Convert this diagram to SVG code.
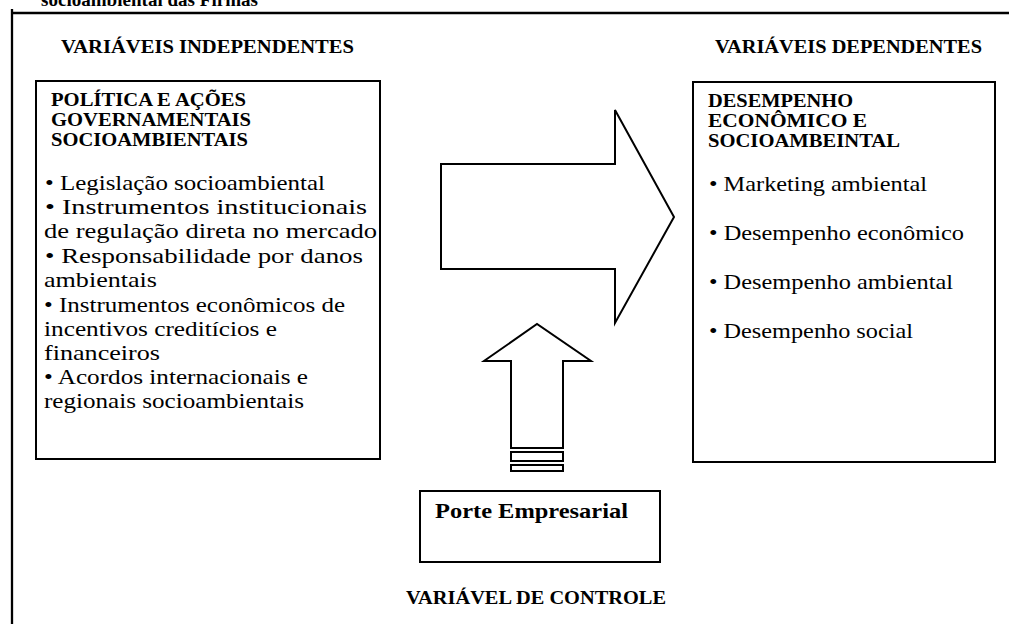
<svg xmlns="http://www.w3.org/2000/svg" width="1009" height="624" viewBox="0 0 1009 624">
<style>
.b{font-weight:bold}
.box{fill:#fff;stroke:#000;stroke-width:2}
.ln{fill:none;stroke:#000;stroke-width:2.3}
</style>
<rect width="1009" height="624" fill="#fff"/>
<g font-family="Liberation Serif, Times New Roman, Times, serif" fill="#000">
<text class="b" x="41" y="6" font-size="19" textLength="217" lengthAdjust="spacingAndGlyphs">socioambiental das Firmas</text>
<text class="b" x="61" y="53" font-size="18" textLength="293" lengthAdjust="spacingAndGlyphs">VARIÁVEIS INDEPENDENTES</text>
<text class="b" x="715" y="53" font-size="18" textLength="267" lengthAdjust="spacingAndGlyphs">VARIÁVEIS DEPENDENTES</text>
</g>
<g id="frame">
<line class="ln" x1="12" y1="13" x2="1009" y2="13"/>
<line class="ln" x1="12" y1="9" x2="12" y2="624"/>
</g>
<g id="independentes" font-family="Liberation Serif, Times New Roman, Times, serif" fill="#000">
<rect class="box" x="36" y="81" width="344" height="378"/>
<text class="b" x="51" y="106" font-size="18" textLength="195" lengthAdjust="spacingAndGlyphs">POLÍTICA E AÇÕES</text>
<text class="b" x="51" y="126" font-size="18" textLength="200" lengthAdjust="spacingAndGlyphs">GOVERNAMENTAIS</text>
<text class="b" x="51" y="146" font-size="18" textLength="197" lengthAdjust="spacingAndGlyphs">SOCIOAMBIENTAIS</text>
<text x="45" y="190" font-size="22" textLength="280" lengthAdjust="spacingAndGlyphs">• Legislação socioambiental</text>
<text x="45" y="214" font-size="22" textLength="322" lengthAdjust="spacingAndGlyphs">• Instrumentos  institucionais</text>
<text x="44" y="238" font-size="22" textLength="333" lengthAdjust="spacingAndGlyphs">de regulação direta no mercado</text>
<text x="45" y="263" font-size="22" textLength="318" lengthAdjust="spacingAndGlyphs">• Responsabilidade por danos</text>
<text x="44" y="287" font-size="22" textLength="113" lengthAdjust="spacingAndGlyphs">ambientais</text>
<text x="44" y="312" font-size="22" textLength="301" lengthAdjust="spacingAndGlyphs">• Instrumentos econômicos de</text>
<text x="44" y="336" font-size="22" textLength="233" lengthAdjust="spacingAndGlyphs">incentivos creditícios e</text>
<text x="44" y="360" font-size="22" textLength="116" lengthAdjust="spacingAndGlyphs">financeiros</text>
<text x="44" y="384" font-size="22" textLength="264" lengthAdjust="spacingAndGlyphs">• Acordos internacionais e</text>
<text x="44" y="408" font-size="22" textLength="260" lengthAdjust="spacingAndGlyphs">regionais socioambientais</text>
</g>
<g id="dependentes" font-family="Liberation Serif, Times New Roman, Times, serif" fill="#000">
<rect class="box" x="693" y="82" width="302" height="380"/>
<text class="b" x="708" y="107" font-size="18" textLength="145" lengthAdjust="spacingAndGlyphs">DESEMPENHO</text>
<text class="b" x="708" y="127" font-size="18" textLength="159" lengthAdjust="spacingAndGlyphs">ECONÔMICO E</text>
<text class="b" x="708" y="147" font-size="18" textLength="192" lengthAdjust="spacingAndGlyphs">SOCIOAMBEINTAL</text>
<text x="709" y="191" font-size="22" textLength="218" lengthAdjust="spacingAndGlyphs">• Marketing ambiental</text>
<text x="709" y="240" font-size="22" textLength="255" lengthAdjust="spacingAndGlyphs">• Desempenho econômico</text>
<text x="709" y="289" font-size="22" textLength="244" lengthAdjust="spacingAndGlyphs">• Desempenho ambiental</text>
<text x="709" y="338" font-size="22" textLength="204" lengthAdjust="spacingAndGlyphs">• Desempenho social</text>
</g>
<g id="controle" font-family="Liberation Serif, Times New Roman, Times, serif" fill="#000">
<rect class="box" x="420" y="491" width="240" height="71"/>
<text class="b" x="435" y="518" font-size="22" textLength="193" lengthAdjust="spacingAndGlyphs">Porte Empresarial</text>
<text class="b" x="406" y="604" font-size="18" textLength="260" lengthAdjust="spacingAndGlyphs">VARIÁVEL DE CONTROLE</text>
</g>
<g id="connectors">
<polygon class="box" points="441,164 615,164 615,110 674,217 615,323 615,269 441,269"/>
<polygon class="box" points="511,448 511,361 484,361 537,324 591,361 563,361 563,448"/>
<rect class="box" x="511" y="452" width="52" height="9"/>
<rect class="box" x="511" y="465" width="52" height="6"/>
</g>
</svg>
